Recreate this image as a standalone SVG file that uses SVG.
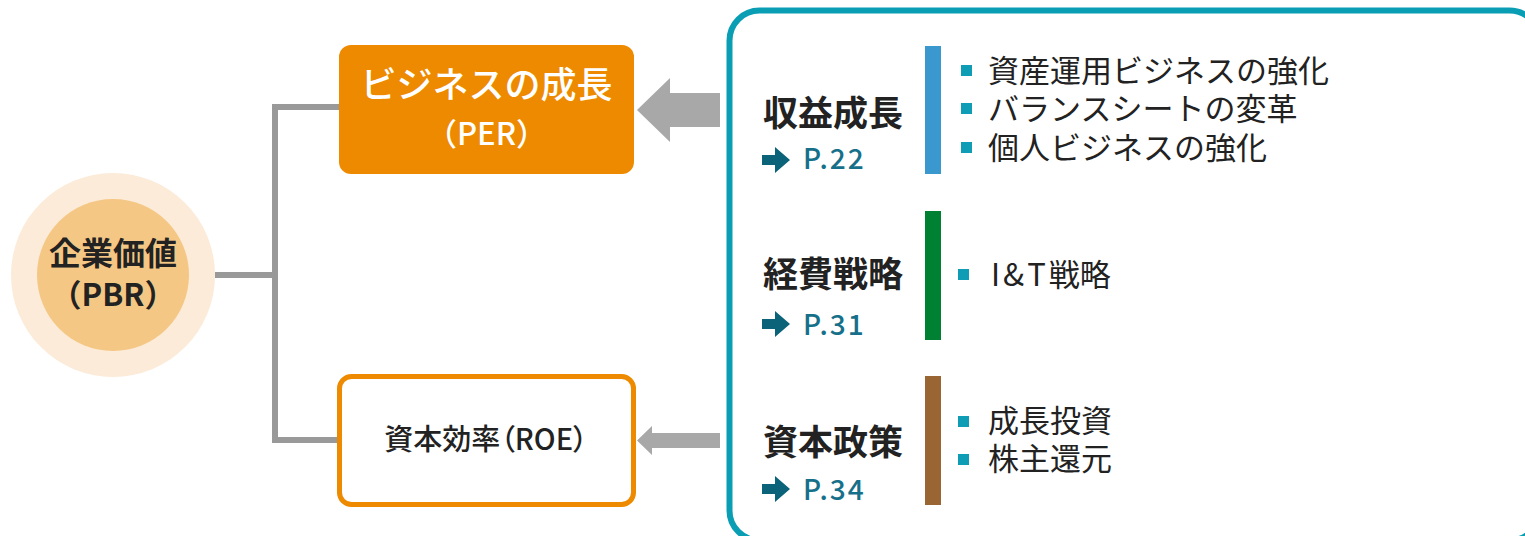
<svg xmlns="http://www.w3.org/2000/svg" width="1525" height="536" viewBox="0 0 1525 536">
<defs>
<style>
.jp{font-family:"Noto Sans CJK JP","Noto Sans",sans-serif;}
.hd{font-size:35px;font-weight:700;fill:#222;}
.pg{font-size:28px;font-weight:500;fill:#16708A;letter-spacing:2px;}
.bl{font-size:31px;font-weight:400;fill:#222;}
.sq{fill:#0E9DB5;}
.ic{fill:#0B6379;}
.cn{stroke:#999;stroke-width:6;fill:none;}
.ga{fill:#A8A8A8;}
.pt{font-feature-settings:"palt";}
</style>
<path id="pa" d="M0,-5 H13 V-13 L28,0 L13,13 V5 H0 Z"/>
</defs>
<rect width="1525" height="536" fill="#fff"/>
<g id="connectors">
<path class="cn" d="M215,275 H275 M275,104 V443 M272,107 H340 M272,440 H340"/>
<path class="ga" d="M720,93 H670 V78 L637,110 L670,142 V127 H720 Z"/>
<path class="ga" d="M720,433 H652 V426 L637,440.5 L652,455 V448 H720 Z"/>
</g>
<g id="pbr">
<circle cx="113" cy="275" r="102" fill="#FCEBD8"/>
<circle cx="113" cy="275" r="76" fill="#F5C784"/>
<text class="jp" x="113" y="265" font-size="32" font-weight="700" fill="#222" text-anchor="middle">企業価値</text>
<text class="jp" x="113" y="306" font-size="31" font-weight="700" fill="#222" text-anchor="middle">（PBR）</text>
</g>
<g id="per">
<rect x="339" y="45" width="295" height="129" rx="12" fill="#EE8A00"/>
<text class="jp" x="486.5" y="98" font-size="36" font-weight="500" fill="#fff" text-anchor="middle">ビジネスの成長</text>
<text class="jp" x="486.5" y="145" font-size="31" font-weight="500" fill="#fff" text-anchor="middle">（PER）</text>
</g>
<g id="roe">
<rect x="339.5" y="376.5" width="294" height="128" rx="12" fill="#fff" stroke="#EE8A00" stroke-width="5"/>
<text class="jp pt" x="486" y="450" font-size="29" font-weight="500" fill="#222" text-anchor="middle">資本効率（ROE）</text>
</g>
<g id="panel">
<rect x="729.5" y="10.5" width="810" height="530" rx="30" fill="#fff" stroke="#0A9EB5" stroke-width="6"/>
</g>
<g id="growth">
<text class="jp hd" x="763" y="126">収益成長</text>
<use href="#pa" class="ic" x="762" y="160"/>
<text class="jp pg" x="803" y="169">P.22</text>
<rect x="925" y="46" width="16" height="128" fill="#3A98CF"/>
<rect class="sq" x="961" y="65" width="11" height="11"/>
<rect class="sq" x="961" y="103" width="11" height="11"/>
<rect class="sq" x="961" y="142" width="11" height="11"/>
<text class="jp bl"><tspan x="988" y="82">資産運用ビジネスの強化</tspan><tspan x="988" y="120">バランスシートの変革</tspan><tspan x="988" y="159">個人ビジネスの強化</tspan></text>
</g>
<g id="cost">
<text class="jp hd" x="763" y="287">経費戦略</text>
<use href="#pa" class="ic" x="762" y="324"/>
<text class="jp pg" x="803" y="335">P.31</text>
<rect x="925" y="211" width="16" height="129" fill="#008033"/>
<rect class="sq" x="958" y="269" width="11" height="11"/>
<text class="jp bl" x="991" y="286"><tspan letter-spacing="3">I&amp;T</tspan>戦略</text>
</g>
<g id="capital">
<text class="jp hd" x="763" y="455">資本政策</text>
<use href="#pa" class="ic" x="762" y="489"/>
<text class="jp pg" x="803" y="500">P.34</text>
<rect x="925" y="376" width="16" height="129" fill="#996633"/>
<rect class="sq" x="958" y="416" width="11" height="11"/>
<rect class="sq" x="958" y="454" width="11" height="11"/>
<text class="jp bl"><tspan x="988" y="432">成長投資</tspan><tspan x="988" y="470">株主還元</tspan></text>
</g>
</svg>
